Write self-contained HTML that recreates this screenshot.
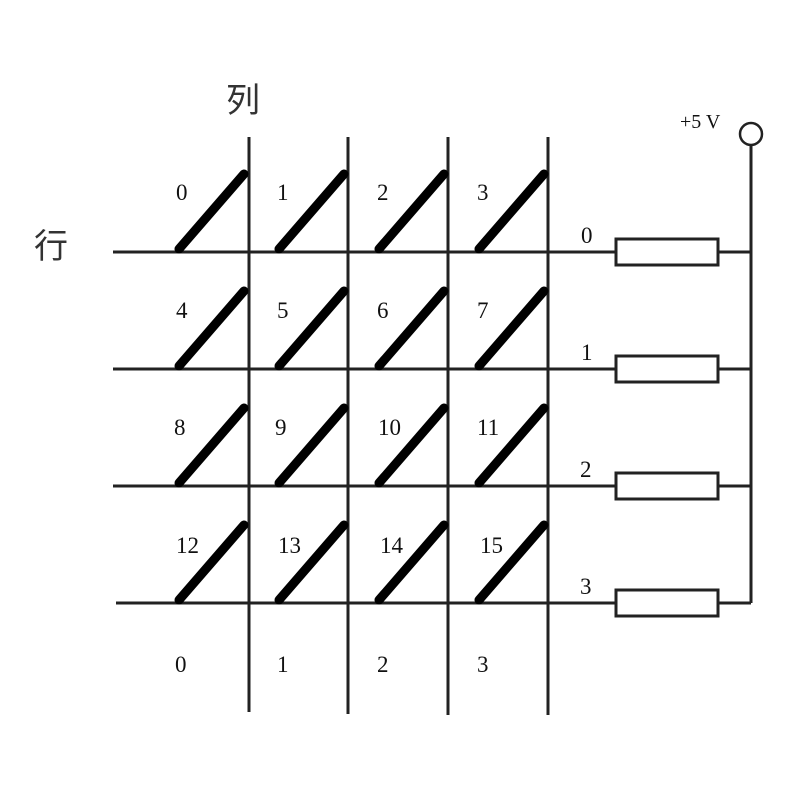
<!DOCTYPE html>
<html><head><meta charset="utf-8"><style>
html,body{margin:0;padding:0;background:#fff;}
svg{display:block}
.n{font-family:"Liberation Serif",serif;font-size:23px;fill:#111;}
.c{font-family:"Liberation Sans","Noto Sans CJK SC",sans-serif;font-size:34px;fill:#333;}
</style></head><body>
<svg width="800" height="800" viewBox="0 0 800 800" xmlns="http://www.w3.org/2000/svg">
<rect width="800" height="800" fill="#fff"/>
<text class="c" x="226" y="112">列</text>
<text class="c" x="34" y="258">行</text>
<g stroke="#222" stroke-width="3" fill="none">
<line x1="249" y1="137" x2="249" y2="712"/>
<line x1="348" y1="137" x2="348" y2="714"/>
<line x1="448" y1="137" x2="448" y2="715"/>
<line x1="548" y1="137" x2="548" y2="715"/>
<line x1="113" y1="252" x2="616" y2="252"/>
<line x1="113" y1="369" x2="616" y2="369"/>
<line x1="113" y1="486" x2="616" y2="486"/>
<line x1="116" y1="603" x2="616" y2="603"/>
<line x1="718" y1="252" x2="751" y2="252"/>
<line x1="718" y1="369" x2="751" y2="369"/>
<line x1="718" y1="486" x2="751" y2="486"/>
<line x1="718" y1="603" x2="751" y2="603"/>
<line x1="751" y1="146" x2="751" y2="603"/>
<circle cx="751" cy="134" r="11" stroke-width="2.5"/>
<rect x="616" y="239" width="102" height="26"/>
<rect x="616" y="356" width="102" height="26"/>
<rect x="616" y="473" width="102" height="26"/>
<rect x="616" y="590" width="102" height="26"/>
</g>
<g stroke="#000" stroke-width="9" stroke-linecap="round">
<line x1="179" y1="249" x2="244" y2="174"/><line x1="279" y1="249" x2="344" y2="174"/><line x1="379" y1="249" x2="444" y2="174"/><line x1="479" y1="249" x2="544" y2="174"/>
<line x1="179" y1="366" x2="244" y2="291"/><line x1="279" y1="366" x2="344" y2="291"/><line x1="379" y1="366" x2="444" y2="291"/><line x1="479" y1="366" x2="544" y2="291"/>
<line x1="179" y1="483" x2="244" y2="408"/><line x1="279" y1="483" x2="344" y2="408"/><line x1="379" y1="483" x2="444" y2="408"/><line x1="479" y1="483" x2="544" y2="408"/>
<line x1="179" y1="600" x2="244" y2="525"/><line x1="279" y1="600" x2="344" y2="525"/><line x1="379" y1="600" x2="444" y2="525"/><line x1="479" y1="600" x2="544" y2="525"/>
</g>
<g class="n">
<text x="176" y="200">0</text><text x="277" y="200">1</text><text x="377" y="200">2</text><text x="477" y="200">3</text>
<text x="176" y="318">4</text><text x="277" y="318">5</text><text x="377" y="318">6</text><text x="477" y="318">7</text>
<text x="174" y="435">8</text><text x="275" y="435">9</text><text x="378" y="435">10</text><text x="477" y="435">11</text>
<text x="176" y="553">12</text><text x="278" y="553">13</text><text x="380" y="553">14</text><text x="480" y="553">15</text>
<text x="175" y="672">0</text><text x="277" y="672">1</text><text x="377" y="672">2</text><text x="477" y="672">3</text>
<text x="581" y="243">0</text><text x="581" y="360">1</text><text x="580" y="477">2</text><text x="580" y="594">3</text>
<text x="680" y="128" style="font-size:20px">+5 V</text>
</g>
</svg>
</body></html>
